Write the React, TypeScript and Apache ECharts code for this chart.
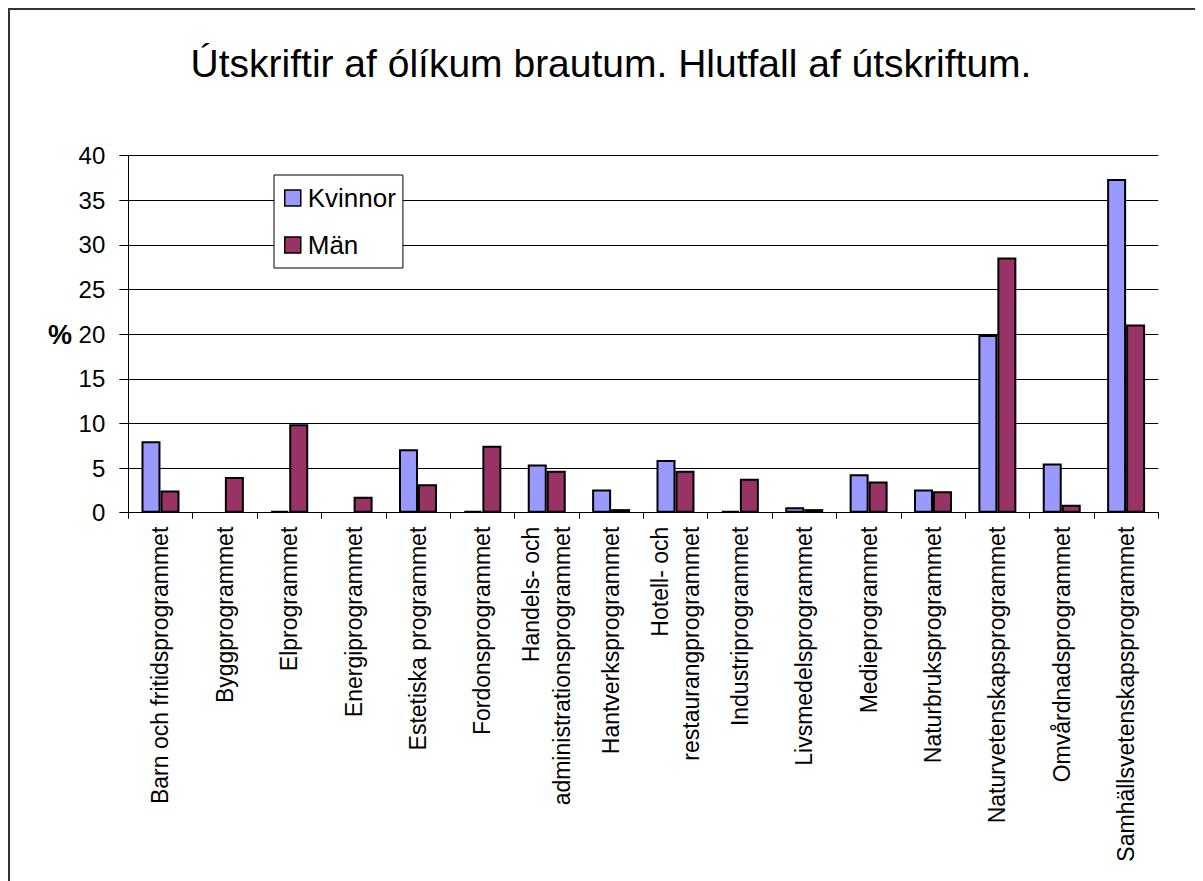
import React, { useEffect, useRef } from "react";
import * as echarts from "echarts";

const categories = [
  "Barn och fritidsprogrammet",
  "Byggprogrammet",
  "Elprogrammet",
  "Energiprogrammet",
  "Estetiska programmet",
  "Fordonsprogrammet",
  "Handels- och\nadministrationsprogrammet",
  "Hantverksprogrammet",
  "Hotell- och\nrestaurangprogrammet",
  "Industriprogrammet",
  "Livsmedelsprogrammet",
  "Medieprogrammet",
  "Naturbruksprogrammet",
  "Naturvetenskapsprogrammet",
  "Omvårdnadsprogrammet",
  "Samhällsvetenskapsprogrammet",
];

const kvinnor: (number | null)[] = [8.0, null, 0.2, null, 7.1, 0.2, 5.4, 2.6, 5.9, 0.2, 0.6, 4.3, 2.6, 19.9, 5.5, 37.4];
const man: (number | null)[] = [2.5, 4.0, 9.9, 1.8, 3.2, 7.5, 4.7, 0.4, 4.7, 3.8, 0.4, 3.5, 2.4, 28.6, 0.9, 21.1];

const seriesNames = ["Kvinnor", "Män"];
const titleText = "Útskriftir af ólíkum brautum. Hlutfall af útskriftum.";
const yAxisName = "%";
const yMin = 0;
const yMax = 40;
const yInterval = 5;

const FONT = "'Liberation Sans', Arial, sans-serif";
const W = 1195;
const H = 873;

export default function App() {
  const ref = useRef<HTMLDivElement>(null);
  useEffect(() => {
    if (!ref.current) return;
    const chart = echarts.init(ref.current, undefined, { renderer: "svg" });
    chart.setOption({
      animation: false,
      backgroundColor: "#ffffff",
      textStyle: { fontFamily: FONT, color: "#000" },
      graphic: [
        { type: "line", shape: { x1: 1, y1: 0, x2: 1, y2: H }, style: { stroke: "#333", lineWidth: 2 } },
        { type: "line", shape: { x1: 0, y1: 1, x2: W, y2: 1 }, style: { stroke: "#333", lineWidth: 2 } },
        {
          type: "text",
          x: 603,
          y: 55,
          style: {
            text: titleText,
            font: `39px ${FONT}`,
            fill: "#000",
            textAlign: "center",
            textVerticalAlign: "middle",
          },
        },
        {
          type: "text",
          x: 52,
          y: 327,
          style: {
            text: yAxisName,
            font: `bold 27px ${FONT}`,
            fill: "#000",
            textAlign: "center",
            textVerticalAlign: "middle",
          },
        },
      ],
      legend: {
        orient: "vertical",
        left: 266,
        top: 167,
        padding: [10, 7, 10, 10],
        itemWidth: 16,
        itemHeight: 16,
        itemGap: 21,
        backgroundColor: "#fff",
        borderColor: "#000",
        borderWidth: 1,
        icon: "rect",
        itemStyle: { borderColor: "#000", borderWidth: 1.5 },
        textStyle: { fontFamily: FONT, fontSize: 26, color: "#000", lineHeight: 24, padding: [0, 0, 0, 2] },
        data: seriesNames,
      },
      grid: {
        left: 120.3,
        top: 147.7,
        right: 44.7,
        bottom: 368.3,
        containLabel: false,
        outerBoundsMode: "none",
      },
      xAxis: {
        type: "category",
        data: categories,
        axisLine: { show: true, lineStyle: { color: "#000", width: 1 } },
        axisTick: { show: true, inside: false, length: 6, interval: 0, alignWithLabel: false, lineStyle: { color: "#000" } },
        axisLabel: {
          interval: 0,
          rotate: 90,
          margin: 14,
          fontFamily: FONT,
          fontSize: 23,
          lineHeight: 31,
          color: "#000",
        },
        splitLine: { show: false },
      },
      yAxis: {
        type: "value",
        min: yMin,
        max: yMax,
        interval: yInterval,
        axisLine: { show: true, lineStyle: { color: "#000", width: 1 } },
        axisTick: { show: true, inside: false, length: 9, lineStyle: { color: "#000" } },
        axisLabel: { margin: 23, fontFamily: FONT, fontSize: 24, color: "#000" },
        splitLine: { show: true, lineStyle: { color: "#000", width: 1 } },
      },
      series: [
        {
          name: seriesNames[0],
          type: "bar",
          data: kvinnor,
          barGap: "0%",
          barCategoryGap: "41%",
          itemStyle: { color: "#9999FF", borderColor: "#000", borderWidth: 2 },
        },
        {
          name: seriesNames[1],
          type: "bar",
          data: man,
          barGap: "0%",
          barCategoryGap: "41%",
          itemStyle: { color: "#993366", borderColor: "#000", borderWidth: 2 },
        },
      ],
    });
    return () => chart.dispose();
  }, []);
  return <div ref={ref} style={{ width: W, height: H }} />;
}
